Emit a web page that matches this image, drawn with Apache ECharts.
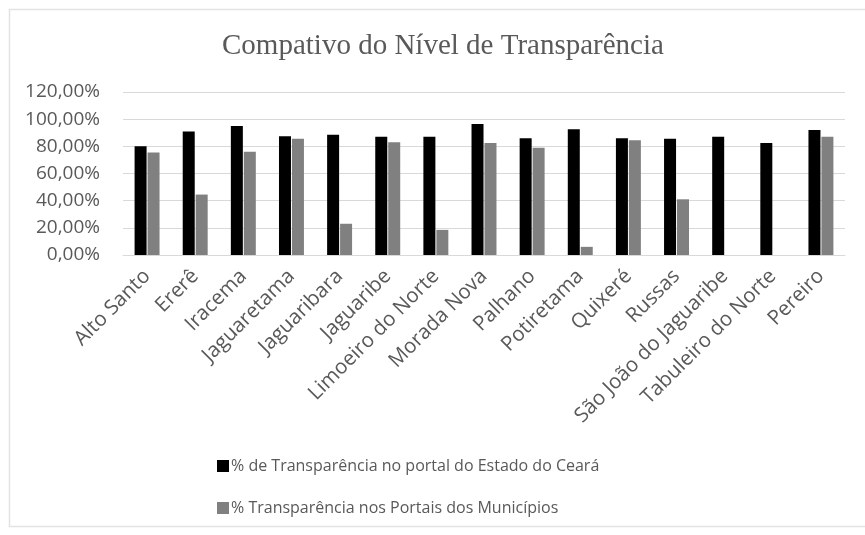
<!DOCTYPE html>
<html>
<head>
<meta charset="utf-8">
<title>Compativo do Nível de Transparência</title>
<script src="https://cdn.jsdelivr.net/npm/echarts@6/dist/echarts.min.js"></script>
<style>
  html, body { margin: 0; padding: 0; background: #ffffff; }
  #chart { width: 865px; height: 535px; }
</style>
</head>
<body>
<div id="chart"></div>
<script>
// municípios (eixo x)
var municipios = ['Alto Santo', 'Ererê', 'Iracema', 'Jaguaretama', 'Jaguaribara', 'Jaguaribe',
  'Limoeiro do Norte', 'Morada Nova', 'Palhano', 'Potiretama', 'Quixeré', 'Russas',
  'São João do Jaguaribe', 'Tabuleiro do Norte', 'Pereiro'];

// % de Transparência no portal do Estado do Ceará
var portalEstado = [80, 91, 95, 87.5, 88.5, 87, 87, 96.5, 86, 92.5, 86, 85.5, 87, 82.5, 92];

// % Transparência nos Portais dos Municípios
var portaisMunicipios = [75.5, 44.5, 76, 85.5, 23, 83, 18.5, 82.5, 79, 6, 84.5, 41, 0, 0, 87];

var nomesSeries = ['% de Transparência no portal do Estado do Ceará', '% Transparência nos Portais dos Municípios'];
var coresSeries = ['#000000', '#808080'];

var yMin = 0, yMax = 120, yPasso = 20;

var textoCor = '#595959';
var fonteTexto = 'Open Sans';

var chart = echarts.init(document.getElementById('chart'), null, { renderer: 'canvas' });

var option = {
  backgroundColor: '#ffffff',
  animation: false,
  title: {
    text: 'Compativo do Nível de Transparência',
    left: 217,
    top: 27,
    textStyle: {
      fontFamily: 'Liberation Serif',
      fontWeight: 'normal',
      fontSize: 29,
      color: textoCor
    }
  },
  // moldura clara ao redor do gráfico
  graphic: [{
    type: 'rect',
    shape: { x: 9.5, y: 9.5, width: 900, height: 517 },
    style: { fill: 'none', stroke: '#e3e3e3', lineWidth: 1.5 },
    silent: true
  }],
  legend: {
    orient: 'vertical',
    left: 212,
    top: 450,
    itemGap: 20,
    itemWidth: 12,
    itemHeight: 12,
    icon: 'rect',
    textStyle: { fontFamily: fonteTexto, fontSize: 16, lineHeight: 22, color: textoCor, padding: [0, 0, 0, -3] },
    data: nomesSeries
  },
  grid: {
    left: 123,
    right: 20,
    top: 92,
    bottom: 280,
    containLabel: false
  },
  xAxis: {
    type: 'category',
    data: municipios,
    axisLine: { lineStyle: { color: '#d9d9d9' } },
    axisTick: { show: false },
    axisLabel: {
      interval: 0,
      rotate: 45,
      margin: 18,
      fontFamily: fonteTexto,
      fontSize: 20.5,
      color: textoCor
    }
  },
  yAxis: {
    type: 'value',
    min: yMin,
    max: yMax,
    interval: yPasso,
    axisLine: { show: false },
    axisTick: { show: false },
    splitLine: { lineStyle: { color: '#d9d9d9', width: 1 } },
    axisLabel: {
      margin: 23,
      fontFamily: fonteTexto,
      fontSize: 19,
      color: textoCor,
      formatter: function (v) {
        return v.toFixed(2).replace('.', ',') + '%';
      }
    }
  },
  series: [{
    name: nomesSeries[0],
    type: 'bar',
    data: portalEstado,
    barWidth: 12,
    barGap: '8%',
    itemStyle: { color: coresSeries[0] }
  }, {
    name: nomesSeries[1],
    type: 'bar',
    data: portaisMunicipios,
    barWidth: 12,
    itemStyle: { color: coresSeries[1] }
  }]
};

chart.setOption(option);
</script>
</body>
</html>
